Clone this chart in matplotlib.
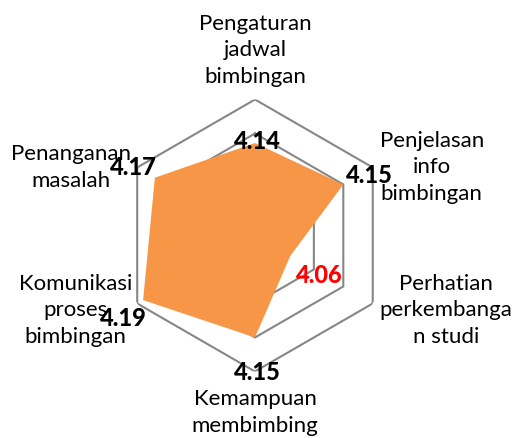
import numpy as np
import matplotlib
matplotlib.use("Agg")
import matplotlib.pyplot as plt

# data
categories = ["Pengaturan\njadwal\nbimbingan", "Penjelasan\ninfo\nbimbingan",
              "Perhatian\nperkembanga\nn studi", "Kemampuan\nmembimbing",
              "Komunikasi\nproses\nbimbingan", "Penanganan\nmasalah"]
values = [4.136, 4.15, 4.06, 4.15, 4.19, 4.17]
rings = [4.05, 4.10, 4.15, 4.20]

# label offsets (pixels) relative to point / outer vertex
value_offsets = [(2, 3), (26, 10), (29, -19), (2, -34), (-20, -17), (-21, 11)]
value_colors = ["black", "black", "red", "black", "black", "black"]
cat_offsets = [(0, 50), (59, 1), (73, -6), (0, -40), (-62, -6), (-66, 1)]

plt.rcParams['font.family'] = ['Lato', 'DejaVu Sans']

fig = plt.figure(figsize=(5.16, 4.39), dpi=100)
ax = fig.add_axes([0.2306, 0.1515, 0.5271, 0.6196], projection='polar')
ax.set_theta_offset(np.pi / 2)
ax.set_theta_direction(-1)

angles = np.arange(len(values)) * 2 * np.pi / len(values)
closed = np.append(angles, angles[0])

for r in rings:
    ax.plot(closed, [r] * len(closed), color='#868686', lw=1.5, zorder=1)

ax.fill(closed, np.append(values, values[0]), color='#F79646', lw=0, zorder=2)

ax.set_ylim(4.0, 4.2)
ax.set_xticks([])
ax.set_yticks([])
ax.grid(False)
ax.spines['polar'].set_visible(False)
ax.set_facecolor('none')

for a, v, off, c in zip(angles, values, value_offsets, value_colors):
    ax.annotate(f"{v:.2f}", xy=(a, v), xytext=off, textcoords='offset pixels',
                ha='center', va='center', fontsize=17, fontweight='black',
                color=c, zorder=5, annotation_clip=False)

for a, lab, off in zip(angles, categories, cat_offsets):
    ax.annotate(lab, xy=(a, 4.2), xytext=off, textcoords='offset pixels',
                ha='center', va='center', multialignment='center',
                fontsize=16, linespacing=1.41, annotation_clip=False)

fig.savefig('out.png', dpi=100)
